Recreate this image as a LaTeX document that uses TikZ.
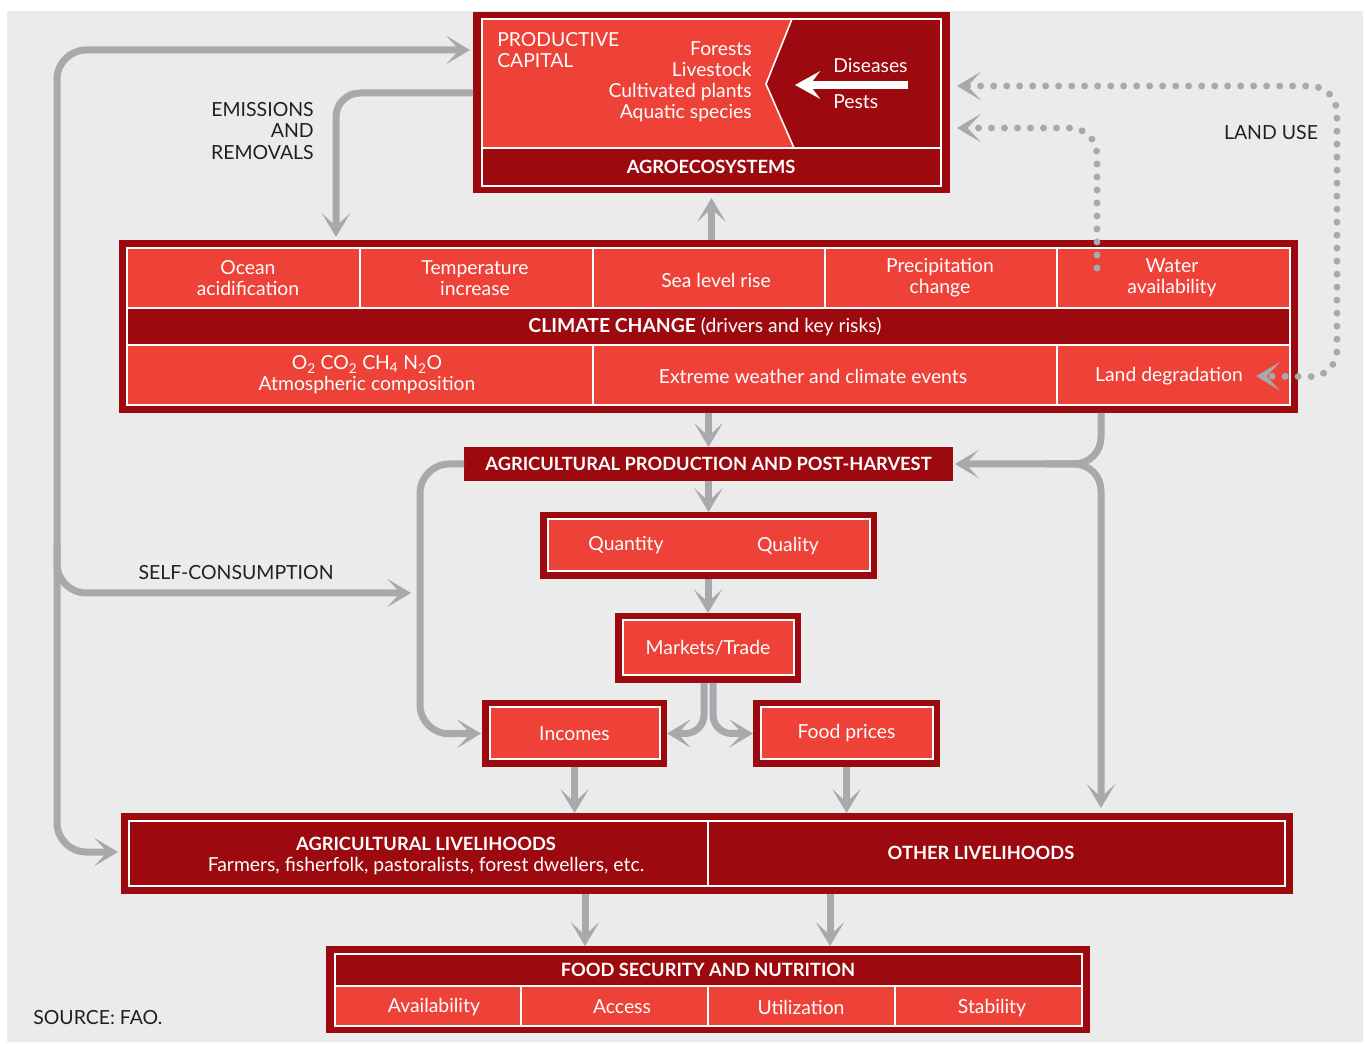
\documentclass[tikz,border=0pt]{standalone}
\usepackage{fontspec}
\setmainfont{Lato}
\usetikzlibrary{arrows.meta,calc}
\definecolor{dred}{HTML}{9C0A10}
\definecolor{lred}{HTML}{EE4138}
\definecolor{agray}{HTML}{A7A9AC}
\definecolor{bg}{HTML}{EBEBEB}
\definecolor{ink}{HTML}{231F20}
\begin{document}
\begin{tikzpicture}[x=0.75pt,y=-0.75pt,
  chev/.tip={Stealth[length=18pt,width=21.5pt,inset=10pt,line width=0pt]},
  outerbox/.style={fill=dred, draw=none, inner sep=0pt, outer sep=0pt},
  smallbox/.style={fill=lred, draw=white, line width=1.5pt, preaction={draw=dred, line width=11.25pt}, inner sep=0pt, outer sep=5.6pt, text=white, font=\fontsize{14.5pt}{15.75pt}\selectfont},
  wt/.style={text=white, font=\fontsize{14.5pt}{15.75pt}\selectfont, align=center, inner sep=0pt},
  wtb/.style={text=white, font=\fontsize{13.7pt}{15.75pt}\selectfont\bfseries, align=center, inner sep=0pt},
  lbl/.style={text=ink, font=\fontsize{14.6pt}{16pt}\selectfont, inner sep=0pt},
  wline/.style={draw=white, line width=1.5pt},
  sep/.style={draw=white, line width=0.9pt},
  garrow/.style={draw=agray, line width=5.25pt, rounded corners=18pt, -{chev}},
  gboth/.style={draw=agray, line width=5.25pt, rounded corners=22pt, {chev}-{chev}},
  gdots/.style={draw=agray, line width=5.2pt, line cap=round, dash pattern=on 0pt off 9.75pt, rounded corners=20pt},
]
\useasboundingbox (0,0) rectangle (1365,1044);
\fill[white] (0,0) rectangle (1365,1044);
\fill[bg] (7,11) rectangle (1363,1042);

% ---------- AGROECOSYSTEMS ----------
\node[outerbox, minimum width=357.75pt, minimum height=135.75pt] (agro) at (711.5,102.5) {};
\fill[lred] (483,20) -- (792,20) -- (766,84) -- (794,147) -- (483,147) -- cycle;
\draw[wline] (482,19) rectangle (941,186);
\draw[sep, line width=1.2pt] (792,19) -- (766,84) -- (794,148);
\draw[wline] (482,148) -- (941,148);
\node[wt, anchor=west, align=left] (pc) at (497,50) {PRODUCTIVE\\CAPITAL};
\node[wt, anchor=east, align=right] (species) at (752,82) {Forests\\Livestock\\Cultivated plants\\Aquatic species};
\node[wt, anchor=west] (dis) at (833,66) {Diseases};
\node[wt, anchor=west] (pests) at (833,102) {Pests};
\coordinate (wa1) at (908,85);
\coordinate (wa2) at (795,85);
\draw[white, line width=6pt, -{Stealth[length=19pt,width=21pt,inset=8pt,line width=0pt]}] (wa1) -- (wa2);
\node[wtb] (agrolbl) at (711,167) {AGROECOSYSTEMS};

% ---------- CLIMATE CHANGE ----------
\node[outerbox, minimum width=884.25pt, minimum height=129.75pt] (climate) at (708.5,326.5) {};
\fill[lred] (127,248) rectangle (1290,405);
\fill[dred] (127,308) rectangle (1290,345);
\draw[sep] (127,308) -- (1290,308);
\draw[sep] (127,345) -- (1290,345);
\foreach \xx in {360,593,825,1057} \draw[sep] (\xx,248) -- (\xx,308);
\foreach \xx in {593,1057} \draw[sep] (\xx,345) -- (\xx,405);
\draw[wline] (127,248) rectangle (1290,405);
\node[wt] (ocean) at (248,278) {Ocean\\acidification};
\node[wt] (temp) at (475,278) {Temperature\\increase};
\node[wt] (sea) at (716,280) {Sea level rise};
\node[wt] (prec) at (940,278) {Precipitation\\change};
\node[wt] (water) at (1172,278) {Water\\availability};
\node[wt] (cc) at (705,327) {\textbf{CLIMATE CHANGE} (drivers and key risks)};
\node[wt] (atm) at (367,375) {O\textsubscript{2} CO\textsubscript{2} CH\textsubscript{4} N\textsubscript{2}O\\Atmospheric composition};
\node[wt] (ext) at (813,376) {Extreme weather and climate events};
\node[wt] (ld) at (1169,376) {Land degradation};

% ---------- PRODUCTION chain ----------
\node[outerbox, minimum width=366.75pt, minimum height=25.5pt, wtb] (prod) at (708.5,464) {AGRICULTURAL PRODUCTION AND POST-HARVEST};
\node[smallbox, minimum width=241.5pt, minimum height=39pt] (qq) at (708.5,545.5) {};
\node[wt] (quant) at (626,545) {Quantity};
\node[wt] (qual) at (788,546) {Quality};
\node[smallbox, minimum width=128.25pt, minimum height=41.25pt] (markets) at (708,648) {Markets/Trade};
\node[smallbox, minimum width=127.5pt, minimum height=39pt] (incomes) at (574.5,733.5) {Incomes};
\node[smallbox, minimum width=129pt, minimum height=39pt] (foodprices) at (846.5,733.5) {Food prices};

% ---------- LIVELIHOODS ----------
\node[outerbox, minimum width=879pt, minimum height=60.75pt] (livelihoods) at (707,853.5) {};
\draw[wline] (129,821) rectangle (1285,886);
\draw[draw=white, line width=2.2pt] (708,821) -- (708,886);
\node[wtb] (aglv) at (426,844) {AGRICULTURAL LIVELIHOODS};
\node[wt] (farm) at (426,866) {Farmers, fisherfolk, pastoralists, forest dwellers, etc.};
\node[wtb] (other) at (981,853) {OTHER LIVELIHOODS};

% ---------- FOOD SECURITY ----------
\node[outerbox, minimum width=573pt, minimum height=65.25pt] (fsn) at (708,989.5) {};
\fill[lred] (335,986) rectangle (1082,1026);
\draw[sep] (335,986) -- (1082,986);
\foreach \xx in {521,708,895} \draw[sep] (\xx,986) -- (\xx,1026);
\draw[wline] (335,954) rectangle (1082,1026);
\node[wtb] (fsnlbl) at (708,970) {FOOD SECURITY AND NUTRITION};
\node[wt] (avail) at (434,1007) {Availability};
\node[wt] (access) at (622,1007) {Access};
\node[wt] (util) at (801,1007) {Utilization};
\node[wt] (stab) at (992,1008) {Stability};

% ---------- labels ----------
\node[lbl, anchor=east, align=right] (emis) at (314,131) {EMISSIONS\\AND\\REMOVALS};
\node[lbl] (landuse) at (1271,133) {LAND USE};
\node[lbl] (selfc) at (236,573) {SELF-CONSUMPTION};
\node[lbl, anchor=west] (source) at (33,1018) {SOURCE: FAO.};

% ---------- connectors ----------
\draw[garrow] (agro.south |- climate.north) -- ($(agro.south)+(0,5)$);
\draw[garrow] (prod.north |- climate.south) -- (prod.north);
\draw[garrow] (qq.north |- prod.south) -- (qq.north);
\draw[garrow] (markets.north |- qq.south) -- (markets.north);
\draw[garrow, rounded corners=14pt] ($(markets.south)+(-4,0)$) |- (incomes.east);
\draw[garrow, rounded corners=14pt] ($(markets.south)+(5,0)$) |- (foodprices.west);
\draw[garrow] (incomes.south) -- (incomes.south |- livelihoods.north);
\draw[garrow] (foodprices.south) -- (foodprices.south |- livelihoods.north);
\draw[garrow] ($(livelihoods.south)+(-122,0)$) -- ($(fsn.north)+(-123,0)$);
\draw[garrow] ($(livelihoods.south)+(123,0)$) -- ($(fsn.north)+(122,0)$);
\draw[garrow] ($(agro.west)+(0,-9.5)$) -| ($(climate.north west)+(217,-3)$);
\draw[gboth] ($(agro.west)+(-3,-52.5)$) -- (57,50) -- (57,852) -- ($(livelihoods.west)+(-3,-1.5)$);
\coordinate (loopbranch) at (57,545);
\coordinate (selfend) at (411,593);
\draw[garrow, rounded corners=22pt] (loopbranch) -- (57,593) -- (selfend);
\draw[garrow, rounded corners=22pt] (prod.west) -- (420,464) -- (420,734) -- ($(incomes.west)+(-1,0)$);
\draw[garrow, rounded corners=20pt] ($(climate.south)+(392.5,0)$) -- (1101,464) -- ($(prod.east)+(2,0)$);
\coordinate (rj) at (1045,464);
\draw[garrow, rounded corners=20pt] (rj) -- (1101,464) -- ($(livelihoods.north)+(394,-5)$);
\draw[gdots, {chev}-{chev}] ($(agro.east)+(7,-16.5)$) -- (1337,86) -- (1337,377) -- ($(ld.east)+(13,0)$);
\coordinate (wsrc) at (1097,268);
\draw[gdots, -{chev}] (wsrc) -- (1097,128) -- ($(agro.east)+(7,25.5)$);
\end{tikzpicture}
\end{document}
